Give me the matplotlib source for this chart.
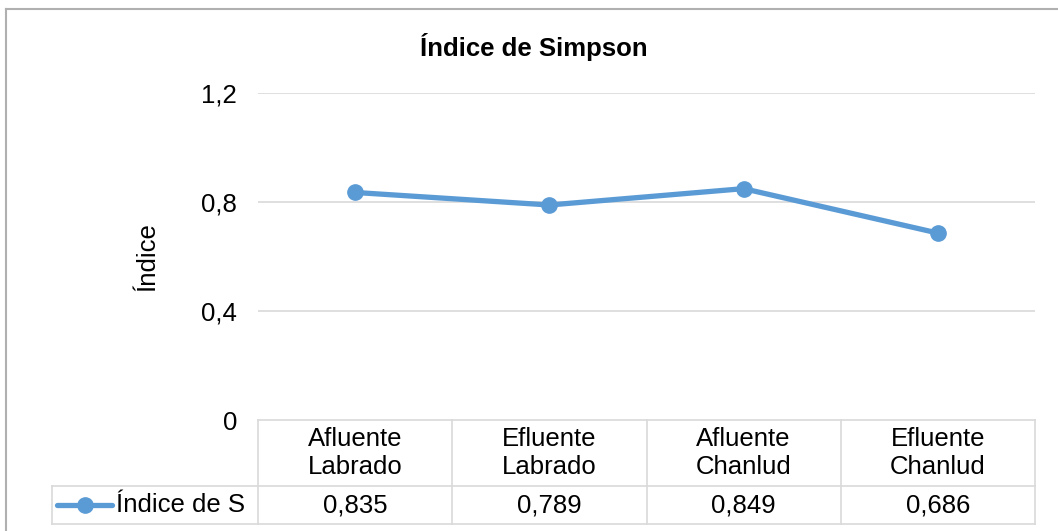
import matplotlib.pyplot as plt
from matplotlib.lines import Line2D

plt.rcParams['font.family'] = ['Liberation Sans', 'DejaVu Sans']

categories = ["Afluente\nLabrado", "Efluente\nLabrado", "Afluente\nChanlud", "Efluente\nChanlud"]
values = [0.835, 0.789, 0.849, 0.686]
value_labels = ["0,835", "0,789", "0,849", "0,686"]
series_name = "Índice de S"
yticks = [0, 0.4, 0.8, 1.2]
ytick_labels = ["0", "0,4", "0,8", "1,2"]

W, H = 1058, 531
FS = 18.5
fig = plt.figure(figsize=(W / 100, H / 100), dpi=100)

# plot area in pixels
x0, x1, ytop, ybot = 258, 1035, 93, 420
ax = fig.add_axes([x0 / W, 1 - ybot / H, (x1 - x0) / W, (ybot - ytop) / H])

blue = '#5b9bd5'
grid = '#d9d9d9'
xs = range(len(values))
ax.plot(xs, values, color=blue, lw=3.8, marker='o', ms=11, solid_capstyle='round', zorder=3)
ax.set_xlim(-0.5, len(values) - 0.5)
ax.set_ylim(0, 1.2)
ax.set_yticks(yticks)
ax.set_yticklabels(ytick_labels, fontsize=FS)
ax.set_xticks([])
ax.tick_params(axis='y', length=0, pad=15)
for v in yticks[1:]:
    ax.axhline(v, color=grid, lw=1.2, zorder=1)
for s in ax.spines.values():
    s.set_visible(False)
ax.set_ylabel("Índice", fontsize=FS, labelpad=30)
fig.text(0.505, 1 - 47 / H, "Índice de Simpson", fontsize=FS, fontweight='bold',
         ha='center', va='center')

# data table below the axes
ph = ybot - ytop
row1 = -(486 - ybot) / ph
row2 = -(524 - ybot) / ph
colw = (x1 - x0) / len(values)
left_x = -0.5 - (x0 - 52) / colw
tr = ax.get_xaxis_transform()
kw = dict(color=grid, lw=1.2, transform=tr, clip_on=False)
ax.add_line(Line2D([-0.5, len(values) - 0.5], [0, 0], **kw))
ax.add_line(Line2D([left_x, len(values) - 0.5], [row1, row1], **kw))
ax.add_line(Line2D([left_x, len(values) - 0.5], [row2, row2], **kw))
ax.add_line(Line2D([left_x, left_x], [row1, row2], **kw))
for i in range(len(values) + 1):
    ax.add_line(Line2D([i - 0.5, i - 0.5], [0, row2], **kw))
for i, (c, v) in enumerate(zip(categories, value_labels)):
    ax.text(i, row1 / 2, c, transform=tr, ha='center', va='center', fontsize=FS,
            linespacing=1.25, clip_on=False)
    ax.text(i, (row1 + row2) / 2, v, transform=tr, ha='center', va='center', fontsize=FS,
            clip_on=False)

# legend key in the table
ky = (row1 + row2) / 2
ax.add_line(Line2D([left_x + 5 / colw, left_x + 60 / colw], [ky, ky], color=blue, lw=3.8,
                   transform=tr, clip_on=False, solid_capstyle='round'))
ax.add_line(Line2D([left_x + 33 / colw], [ky], color=blue, marker='o', ms=11,
                   transform=tr, clip_on=False))
ax.text(left_x + 64 / colw, ky, series_name, transform=tr, ha='left', va='center',
        fontsize=FS, clip_on=False)

# outer chart frame (top and left edges)
fig.add_artist(Line2D([6 / W, 1], [1 - 9 / H, 1 - 9 / H], color='#b0b0b0', lw=1.5))
fig.add_artist(Line2D([6 / W, 6 / W], [0, 1 - 9 / H], color='#b0b0b0', lw=1.5))

fig.savefig("out.png", dpi=100, facecolor='white')
